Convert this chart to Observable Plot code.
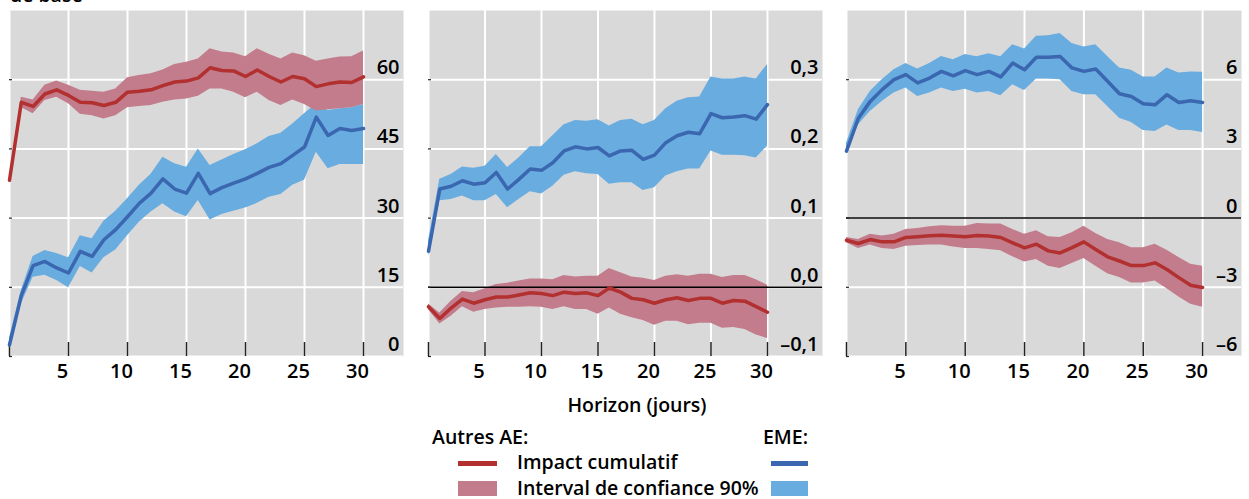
<!DOCTYPE html>
<html><head><meta charset="utf-8">
<script src="https://cdn.jsdelivr.net/npm/d3@7"></script>
<script src="https://cdn.jsdelivr.net/npm/@observablehq/plot@0.6"></script>
<style>
body{margin:0;background:#fff;font-family:"Open Sans",sans-serif;}
#wrap{position:relative;width:1249px;height:499px;overflow:hidden;background:#fff;}
.abs{position:absolute;white-space:nowrap;font-size:19.5px;line-height:20px;color:#000;font-weight:600;}
.sw{position:absolute;}
</style></head><body><div id="wrap"></div>
<script>
// ---------- data ----------
const horizon = [0,1,2,3,4,5,6,7,8,9,10,11,12,13,14,15,16,17,18,19,20,21,22,23,24,25,26,27,28,29,30];
const xTicks = [0,5,10,15,20,25,30];
const xTickLabels = [5,10,15,20,25,30];

// Panel 1
const p1Ticks = [0,15,30,45,60];
const p1Labels = ["0","15","30","45","60"];
const p1RedMid = [38.2,55.1,54.2,56.9,57.8,56.6,55.1,55.0,54.4,55.1,57.3,57.5,57.8,58.7,59.5,59.7,60.4,62.6,62.0,61.9,60.7,62.1,60.7,59.5,60.7,60.2,58.5,59.1,59.5,59.4,60.6];
const p1RedHi  = [38.8,56.2,55.6,58.8,59.7,58.8,57.7,57.5,57.3,58.0,60.4,60.9,61.3,62.1,63.3,63.8,64.5,66.7,66.0,65.8,65.0,66.7,65.5,64.5,65.8,65.2,64.0,64.5,64.9,65.0,66.2];
const p1RedLo  = [37.6,54.0,52.6,55.5,56.2,54.8,52.5,52.2,51.5,52.2,53.9,54.2,54.4,55.1,55.6,55.8,56.4,58.0,58.0,57.3,56.1,57.3,55.5,54.4,55.6,54.6,53.2,53.5,53.7,53.9,54.6];
const p1BlueMid = [2.5,13.2,19.7,20.6,19.2,18.1,22.8,21.7,25.3,27.5,30.3,33.2,35.4,38.5,36.3,35.4,39.7,35.3,36.6,37.6,38.5,39.7,41.0,41.8,43.6,45.4,51.9,47.9,49.4,49.0,49.4];
const p1BlueHi  = [4.0,14.3,21.7,23.0,22.3,21.4,26.2,25.5,29.3,31.5,34.2,37.1,39.5,43.2,41.8,41.0,45.0,41.4,42.6,43.8,44.8,46.1,47.7,48.4,50.4,52.6,54.8,53.3,53.7,53.9,54.6];
const p1BlueLo  = [1.5,11.4,17.2,17.6,16.5,14.9,19.5,18.1,21.4,23.1,26.2,29.1,31.3,33.1,31.3,30.3,33.8,29.6,30.8,31.5,32.2,33.2,34.5,35.1,37.1,38.2,44.3,40.7,41.6,41.6,41.6];

// Panel 2
const p2Ticks = [-0.1,0,0.1,0.2,0.3];
const p2Labels = ["–0,1","0,0","0,1","0,2","0,3"];
const p2BlueMid = [0.052,0.142,0.146,0.154,0.149,0.151,0.166,0.142,0.156,0.171,0.169,0.180,0.197,0.203,0.200,0.202,0.190,0.197,0.198,0.185,0.191,0.209,0.219,0.224,0.222,0.251,0.245,0.246,0.248,0.243,0.264];
const p2BlueHi  = [0.067,0.156,0.163,0.174,0.172,0.175,0.192,0.173,0.187,0.203,0.203,0.219,0.235,0.241,0.240,0.242,0.233,0.241,0.243,0.235,0.241,0.258,0.269,0.274,0.275,0.304,0.301,0.301,0.304,0.301,0.322];
const p2BlueLo  = [0.045,0.125,0.127,0.132,0.125,0.125,0.134,0.115,0.127,0.138,0.135,0.146,0.162,0.167,0.164,0.163,0.149,0.151,0.151,0.140,0.144,0.161,0.167,0.171,0.171,0.197,0.191,0.191,0.190,0.187,0.204];
const p2RedMid = [-0.028,-0.045,-0.030,-0.017,-0.023,-0.018,-0.014,-0.014,-0.011,-0.008,-0.009,-0.012,-0.007,-0.009,-0.008,-0.012,-0.001,-0.007,-0.016,-0.018,-0.023,-0.018,-0.015,-0.019,-0.016,-0.016,-0.023,-0.019,-0.020,-0.028,-0.036];
const p2RedHi  = [-0.024,-0.037,-0.020,-0.006,-0.008,-0.002,0.004,0.006,0.009,0.012,0.012,0.011,0.017,0.015,0.016,0.016,0.027,0.021,0.015,0.013,0.010,0.016,0.018,0.016,0.019,0.019,0.014,0.017,0.017,0.011,0.003];
const p2RedLo  = [-0.032,-0.053,-0.042,-0.028,-0.036,-0.032,-0.030,-0.029,-0.029,-0.028,-0.029,-0.032,-0.028,-0.032,-0.032,-0.039,-0.030,-0.039,-0.044,-0.048,-0.055,-0.049,-0.049,-0.054,-0.052,-0.052,-0.059,-0.058,-0.061,-0.069,-0.074];

// Panel 3
const p3Ticks = [-6,-3,0,3,6];
const p3Labels = ["–6","–3","0","3","6"];
const p3BlueMid = [2.9,4.33,5.06,5.57,6.0,6.22,5.86,6.07,6.36,6.17,6.39,6.22,6.36,6.12,6.72,6.43,6.97,6.97,7.01,6.51,6.36,6.46,5.93,5.39,5.27,4.96,4.91,5.35,5.01,5.09,5.01];
const p3BlueHi  = [3.25,4.70,5.49,6.0,6.43,6.70,6.46,6.70,7.01,6.87,7.09,6.99,7.13,6.99,7.52,7.33,7.88,7.91,8.0,7.57,7.42,7.52,7.01,6.51,6.41,6.12,6.12,6.51,6.29,6.33,6.32];
const p3BlueLo  = [2.81,4.04,4.62,5.06,5.42,5.64,5.27,5.42,5.64,5.49,5.59,5.42,5.49,5.30,5.78,5.53,6.03,6.03,6.0,5.49,5.35,5.35,4.84,4.33,4.14,3.80,3.75,4.04,3.80,3.80,3.71];
const p3RedMid = [-0.96,-1.10,-0.93,-1.03,-1.03,-0.84,-0.81,-0.77,-0.74,-0.78,-0.81,-0.75,-0.78,-0.84,-1.07,-1.29,-1.13,-1.42,-1.51,-1.28,-1.03,-1.36,-1.68,-1.86,-2.06,-2.06,-1.94,-2.23,-2.58,-2.91,-3.01];
const p3RedHi  = [-0.84,-0.93,-0.70,-0.78,-0.70,-0.49,-0.45,-0.38,-0.33,-0.35,-0.35,-0.23,-0.26,-0.26,-0.49,-0.70,-0.55,-0.81,-0.84,-0.64,-0.35,-0.67,-0.93,-1.07,-1.28,-1.28,-1.13,-1.39,-1.71,-2.00,-2.09];
const p3RedLo  = [-1.07,-1.32,-1.17,-1.32,-1.36,-1.22,-1.19,-1.17,-1.17,-1.25,-1.32,-1.32,-1.36,-1.42,-1.68,-1.90,-1.80,-2.09,-2.19,-1.97,-1.75,-2.09,-2.41,-2.58,-2.81,-2.81,-2.73,-3.06,-3.42,-3.74,-3.86];

// ---------- style ----------
const C = {bg:"#d9d9d9", redLine:"#b2302f", redBand:"#c27c8b", blueLine:"#3a67b0", blueBand:"#69ace0"};
const FONT = "'Open Sans', sans-serif";
const wrap = document.getElementById("wrap");

function rows(mid, lo, hi) { return horizon.map((h, i) => ({h, mid: mid[i], lo: lo[i], hi: hi[i]})); }

function panel({left, plotW, xMax, yDomain, yTicks, yLabels, zeroLine, blue, red}) {
  const ml = 2, mr = 2, mt = 10, mb = 44, ph = 346;
  const tickData = yTicks.map((v, i) => ({v, label: yLabels[i]}));
  const marks = [
    Plot.frame({fill: C.bg, stroke: "none"}),
    Plot.ruleX(xTicks, {stroke: "#fff", strokeWidth: 2}),
    Plot.ruleY(yTicks, {stroke: "#fff", strokeWidth: 2}),
    Plot.areaY(blue, {x: "h", y1: "lo", y2: "hi", fill: C.blueBand}),
    Plot.areaY(red, {x: "h", y1: "lo", y2: "hi", fill: C.redBand}),
  ];
  if (zeroLine) marks.push(Plot.ruleY([0], {stroke: "#000", strokeWidth: 1.5}));
  marks.push(
    Plot.ruleX(xTicks, {stroke: "#222", strokeWidth: 1.5, insetTop: ph - 14}),
    Plot.ruleY(yTicks, {stroke: "#222", strokeWidth: 1.2, insetRight: plotW - 3}),
    Plot.line(blue, {x: "h", y: "mid", stroke: C.blueLine, strokeWidth: 3.5, strokeLinejoin: "round"}),
    Plot.line(red, {x: "h", y: "mid", stroke: C.redLine, strokeWidth: 3.5, strokeLinejoin: "round"}),
    Plot.text(tickData, {y: "v", text: "label", frameAnchor: "right", textAnchor: "end", dx: -4, dy: -12, fontSize: 20, fontWeight: 600, fill: "#000"}),
    Plot.text(xTickLabels, {x: d => d, text: d => String(d), frameAnchor: "bottom", dy: 21, dx: -6, fontSize: 20, fontWeight: 600, fill: "#000"})
  );
  const svg = Plot.plot({
    width: plotW + ml + mr, height: mt + ph + mb,
    marginLeft: ml, marginRight: mr, marginTop: mt, marginBottom: mb,
    x: {domain: [0, xMax], axis: null},
    y: {domain: yDomain, axis: null},
    style: {fontFamily: FONT, background: "transparent", overflow: "visible"},
    marks
  });
  const d = document.createElement("div");
  d.style.position = "absolute"; d.style.left = left + "px"; d.style.top = "0px";
  d.appendChild(svg);
  wrap.appendChild(d);
}

panel({left: 7, plotW: 394, xMax: 33.39, yDomain: [0, 75], yTicks: p1Ticks, yLabels: p1Labels, zeroLine: false,
  blue: rows(p1BlueMid, p1BlueLo, p1BlueHi), red: rows(p1RedMid, p1RedLo, p1RedHi)});
panel({left: 426, plotW: 394, xMax: 34.87, yDomain: [-0.1, 0.4], yTicks: p2Ticks, yLabels: p2Labels, zeroLine: true,
  blue: rows(p2BlueMid, p2BlueLo, p2BlueHi), red: rows(p2RedMid, p2RedLo, p2RedHi)});
panel({left: 844, plotW: 395, xMax: 33.28, yDomain: [-6, 9], yTicks: p3Ticks, yLabels: p3Labels, zeroLine: true,
  blue: rows(p3BlueMid, p3BlueLo, p3BlueHi), red: rows(p3RedMid, p3RedLo, p3RedHi)});

// ---------- texts & legend ----------
function txt(s, left, top, extra) {
  const e = document.createElement("div"); e.className = "abs"; e.textContent = s;
  e.style.left = left + "px"; e.style.top = top + "px";
  if (extra) Object.assign(e.style, extra);
  wrap.appendChild(e); return e;
}
function sw(left, top, w, h, color) {
  const e = document.createElement("div"); e.className = "sw";
  Object.assign(e.style, {left: left + "px", top: top + "px", width: w + "px", height: h + "px", background: color});
  wrap.appendChild(e);
}
txt("de base", 10, -15);
txt("Horizon (jours)", 547, 395, {width: "180px", textAlign: "center"});
txt("Autres AE:", 432, 427);
txt("EME:", 708, 427, {width: "100px", textAlign: "right"});
sw(458, 461, 39, 4.5, C.redLine);
txt("Impact cumulatif", 517, 452);
sw(771, 461, 37, 4.5, C.blueLine);
sw(458, 481, 39, 15, C.redBand);
txt("Interval de confiance 90%", 517, 478);
sw(771, 481, 37, 15, C.blueBand);
</script></body></html>
